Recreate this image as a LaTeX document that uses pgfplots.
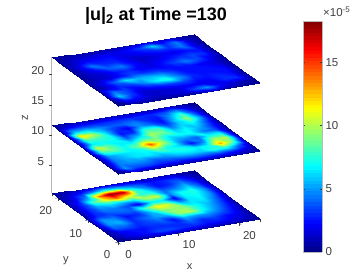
\documentclass[border=0pt]{standalone}
\usepackage{fontspec}
\setmainfont{Liberation Sans}
\usepackage{pgfplots}
\usepackage{pgfplotstable}
\pgfplotsset{compat=1.18}
\definecolor{axc}{gray}{0.25}
\definecolor{axl}{gray}{0.72}
% bottom slice: x y value (in units of 1e-5), rows y=0...22
\pgfplotstableread[row sep=\\]{
x y c\\
0 0 .3\\2 0 .4\\3.9 0 .5\\5.9 0 .6\\7.8 0 .8\\9.8 0 .8\\11.8 0 .7\\13.7 0 .7\\15.7 0 .6\\17.6 0 .6\\19.6 0 .5\\21.5 0 .4\\23.5 0 .3\\
0 1.8 .4\\2 1.8 1.5\\3.9 1.8 2\\5.9 1.8 2.5\\7.8 1.8 3.5\\9.8 1.8 3.5\\11.8 1.8 3\\13.7 1.8 3\\15.7 1.8 2.5\\17.6 1.8 2.5\\19.6 1.8 2\\21.5 1.8 1.5\\23.5 1.8 .4\\
0 3.7 .5\\2 3.7 2\\3.9 3.7 2.5\\5.9 3.7 2.5\\7.8 3.7 3\\9.8 3.7 3\\11.8 3.7 3\\13.7 3.7 4\\15.7 3.7 3\\17.6 3.7 3.5\\19.6 3.7 2.5\\21.5 3.7 2\\23.5 3.7 .5\\
0 5.5 .5\\2 5.5 4\\3.9 5.5 4\\5.9 5.5 3\\7.8 5.5 3.5\\9.8 5.5 4\\11.8 5.5 2.5\\13.7 5.5 5.5\\15.7 5.5 5\\17.6 5.5 5\\19.6 5.5 4\\21.5 5.5 2.5\\23.5 5.5 .5\\
0 7.3 .6\\2 7.3 5\\3.9 7.3 5.5\\5.9 7.3 3\\7.8 7.3 4\\9.8 7.3 5\\11.8 7.3 5.5\\13.7 7.3 9.5\\15.7 7.3 10\\17.6 7.3 7\\19.6 7.3 5\\21.5 7.3 3\\23.5 7.3 .6\\
0 9.2 .6\\2 9.2 5\\3.9 9.2 4.5\\5.9 9.2 2.5\\7.8 9.2 3\\9.8 9.2 5.5\\11.8 9.2 9\\13.7 9.2 9.5\\15.7 9.2 9\\17.6 9.2 7\\19.6 9.2 5.5\\21.5 9.2 3.5\\23.5 9.2 .7\\
0 11 .6\\2 11 3\\3.9 11 3.5\\5.9 11 4\\7.8 11 4\\9.8 11 8\\11.8 11 11.5\\13.7 11 10.5\\15.7 11 5.5\\17.6 11 6.5\\19.6 11 6.5\\21.5 11 4\\23.5 11 .7\\
0 12.8 .6\\2 12.8 3\\3.9 12.8 4.5\\5.9 12.8 4.5\\7.8 12.8 3.5\\9.8 12.8 2\\11.8 12.8 6.5\\13.7 12.8 6.5\\15.7 12.8 2\\17.6 12.8 6.5\\19.6 12.8 7\\21.5 12.8 5\\23.5 12.8 .7\\
0 14.7 .6\\2 14.7 3\\3.9 14.7 5.5\\5.9 14.7 6.5\\7.8 14.7 6\\9.8 14.7 6.5\\11.8 14.7 10\\13.7 14.7 10.5\\15.7 14.7 4.5\\17.6 14.7 7\\19.6 14.7 7.5\\21.5 14.7 5\\23.5 14.7 .7\\
0 16.5 .6\\2 16.5 3\\3.9 16.5 8\\5.9 16.5 11\\7.8 16.5 14\\9.8 16.5 11\\11.8 16.5 7.5\\13.7 16.5 7\\15.7 16.5 4\\17.6 16.5 4.5\\19.6 16.5 6\\21.5 16.5 4\\23.5 16.5 .7\\
0 18.3 .6\\2 18.3 2\\3.9 18.3 5\\5.9 18.3 14\\7.8 18.3 18.25\\9.8 18.3 17.5\\11.8 18.3 8\\13.7 18.3 5\\15.7 18.3 2.5\\17.6 18.3 3\\19.6 18.3 4.5\\21.5 18.3 3\\23.5 18.3 .6\\
0 20.2 .5\\2 20.2 1.5\\3.9 20.2 3\\5.9 20.2 5\\7.8 20.2 7\\9.8 20.2 6\\11.8 20.2 4.5\\13.7 20.2 3.5\\15.7 20.2 2.5\\17.6 20.2 3\\19.6 20.2 3\\21.5 20.2 1.5\\23.5 20.2 .5\\
0 22 .3\\2 22 .5\\3.9 22 .7\\5.9 22 .9\\7.8 22 1.2\\9.8 22 1.3\\11.8 22 1.2\\13.7 22 1\\15.7 22 1\\17.6 22 1\\19.6 22 .8\\21.5 22 .5\\23.5 22 .3\\
}\sliceA
% middle slice
\pgfplotstableread[row sep=\\]{
x y c\\
0 0 .3\\2 0 .8\\3.9 0 .7\\5.9 0 .6\\7.8 0 .6\\9.8 0 .5\\11.8 0 .5\\13.7 0 .5\\15.7 0 .5\\17.6 0 .5\\19.6 0 .4\\21.5 0 .3\\23.5 0 .3\\
0 1.8 .5\\2 1.8 5\\3.9 1.8 3.5\\5.9 1.8 3.5\\7.8 1.8 3\\9.8 1.8 3\\11.8 1.8 3\\13.7 1.8 3.5\\15.7 1.8 3.5\\17.6 1.8 3.5\\19.6 1.8 3\\21.5 1.8 2\\23.5 1.8 .4\\
0 3.7 .5\\2 3.7 4.5\\3.9 3.7 5\\5.9 3.7 5\\7.8 3.7 4\\9.8 3.7 4.5\\11.8 3.7 5.5\\13.7 3.7 6\\15.7 3.7 6\\17.6 3.7 7.5\\19.6 3.7 7.5\\21.5 3.7 4.5\\23.5 3.7 .5\\
0 5.5 .5\\2 5.5 4.5\\3.9 5.5 5.5\\5.9 5.5 6.5\\7.8 5.5 6.5\\9.8 5.5 6\\11.8 5.5 7\\13.7 5.5 7.5\\15.7 5.5 6.5\\17.6 5.5 7\\19.6 5.5 13\\21.5 5.5 9\\23.5 5.5 .6\\
0 7.3 .6\\2 7.3 5\\3.9 7.3 6\\5.9 7.3 6.5\\7.8 7.3 7\\9.8 7.3 9\\11.8 7.3 7\\13.7 7.3 6\\15.7 7.3 2.5\\17.6 7.3 4.5\\19.6 7.3 10\\21.5 7.3 10\\23.5 7.3 .6\\
0 9.2 .6\\2 9.2 8\\3.9 9.2 8.5\\5.9 9.2 7\\7.8 9.2 9\\9.8 9.2 14.5\\11.8 9.2 10\\13.7 9.2 6\\15.7 9.2 4.5\\17.6 9.2 4\\19.6 9.2 7\\21.5 9.2 7\\23.5 9.2 .5\\
0 11 .6\\2 11 10.5\\3.9 11 8.5\\5.9 11 6.5\\7.8 11 6.5\\9.8 11 9\\11.8 11 9\\13.7 11 6.5\\15.7 11 7\\17.6 11 7\\19.6 11 4.5\\21.5 11 3.5\\23.5 11 .5\\
0 12.8 .6\\2 12.8 6.5\\3.9 12.8 7\\5.9 12.8 7\\7.8 12.8 4\\9.8 12.8 6\\11.8 12.8 10\\13.7 12.8 9\\15.7 12.8 6\\17.6 12.8 7\\19.6 12.8 5.5\\21.5 12.8 3.5\\23.5 12.8 .5\\
0 14.7 .6\\2 14.7 8\\3.9 14.7 8\\5.9 14.7 7\\7.8 14.7 2.5\\9.8 14.7 3\\11.8 14.7 8\\13.7 14.7 8\\15.7 14.7 4\\17.6 14.7 6\\19.6 14.7 7\\21.5 14.7 4\\23.5 14.7 .5\\
0 16.5 .6\\2 16.5 12\\3.9 16.5 10\\5.9 16.5 6\\7.8 16.5 3\\9.8 16.5 2\\11.8 16.5 5\\13.7 16.5 4\\15.7 16.5 2.5\\17.6 16.5 6\\19.6 16.5 9.5\\21.5 16.5 5.5\\23.5 16.5 .5\\
0 18.3 .5\\2 18.3 6\\3.9 18.3 6\\5.9 18.3 5\\7.8 18.3 4\\9.8 18.3 4\\11.8 18.3 4.5\\13.7 18.3 3\\15.7 18.3 2.5\\17.6 18.3 5\\19.6 18.3 8\\21.5 18.3 4\\23.5 18.3 .5\\
0 20.2 .4\\2 20.2 2\\3.9 20.2 3\\5.9 20.2 3\\7.8 20.2 3\\9.8 20.2 3\\11.8 20.2 3\\13.7 20.2 3\\15.7 20.2 3\\17.6 20.2 3.5\\19.6 20.2 4.5\\21.5 20.2 2\\23.5 20.2 .4\\
0 22 .3\\2 22 .5\\3.9 22 .7\\5.9 22 .8\\7.8 22 .9\\9.8 22 .9\\11.8 22 .8\\13.7 22 .8\\15.7 22 .7\\17.6 22 .7\\19.6 22 .7\\21.5 22 .5\\23.5 22 .3\\
}\sliceB
% top slice
\pgfplotstableread[row sep=\\]{
x y c\\
0 0 .3\\2 0 .5\\3.9 0 .5\\5.9 0 .4\\7.8 0 .4\\9.8 0 .4\\11.8 0 .5\\13.7 0 .7\\15.7 0 .8\\17.6 0 .6\\19.6 0 .4\\21.5 0 .3\\23.5 0 .3\\
0 1.8 .3\\2 1.8 2.5\\3.9 1.8 2\\5.9 1.8 1.5\\7.8 1.8 1.3\\9.8 1.8 1.5\\11.8 1.8 1.8\\13.7 1.8 3.5\\15.7 1.8 5\\17.6 1.8 2.5\\19.6 1.8 1.5\\21.5 1.8 1\\23.5 1.8 .3\\
0 3.7 .4\\2 3.7 6\\3.9 3.7 3.5\\5.9 3.7 1.5\\7.8 3.7 1.3\\9.8 3.7 1.5\\11.8 3.7 1.8\\13.7 3.7 2\\15.7 3.7 1.8\\17.6 3.7 2\\19.6 3.7 3\\21.5 3.7 3\\23.5 3.7 .4\\
0 5.5 .4\\2 5.5 4.5\\3.9 5.5 3.5\\5.9 5.5 2\\7.8 5.5 2.5\\9.8 5.5 3\\11.8 5.5 3.5\\13.7 5.5 3.5\\15.7 5.5 2.5\\17.6 5.5 2.5\\19.6 5.5 3\\21.5 5.5 2.5\\23.5 5.5 .4\\
0 7.3 .4\\2 7.3 1.5\\3.9 7.3 3\\5.9 7.3 3.5\\7.8 7.3 4.5\\9.8 7.3 6.5\\11.8 7.3 7.5\\13.7 7.3 5\\15.7 7.3 3\\17.6 7.3 2.5\\19.6 7.3 2.5\\21.5 7.3 2.5\\23.5 7.3 .4\\
0 9.2 .4\\2 9.2 1.8\\3.9 9.2 4\\5.9 9.2 6.5\\7.8 9.2 5.5\\9.8 9.2 5.5\\11.8 9.2 5\\13.7 9.2 3.5\\15.7 9.2 2.5\\17.6 9.2 2.5\\19.6 9.2 2.5\\21.5 9.2 2\\23.5 9.2 .4\\
0 11 .4\\2 11 1.2\\3.9 11 1.5\\5.9 11 2.5\\7.8 11 3.5\\9.8 11 3\\11.8 11 3\\13.7 11 2.5\\15.7 11 2.5\\17.6 11 2.5\\19.6 11 2\\21.5 11 1.5\\23.5 11 .4\\
0 12.8 .4\\2 12.8 1.3\\3.9 12.8 1.5\\5.9 12.8 2.5\\7.8 12.8 3\\9.8 12.8 2\\11.8 12.8 1.8\\13.7 12.8 2.5\\15.7 12.8 3.5\\17.6 12.8 4.5\\19.6 12.8 3.5\\21.5 12.8 2\\23.5 12.8 .4\\
0 14.7 .4\\2 14.7 1.5\\3.9 14.7 2.5\\5.9 14.7 4\\7.8 14.7 4.5\\9.8 14.7 2.5\\11.8 14.7 1.5\\13.7 14.7 2\\15.7 14.7 2.5\\17.6 14.7 3\\19.6 14.7 3.5\\21.5 14.7 3\\23.5 14.7 .4\\
0 16.5 .4\\2 16.5 2\\3.9 16.5 4.5\\5.9 16.5 3\\7.8 16.5 3\\9.8 16.5 2\\11.8 16.5 1.2\\13.7 16.5 1.5\\15.7 16.5 2\\17.6 16.5 2\\19.6 16.5 2.5\\21.5 16.5 2.5\\23.5 16.5 .4\\
0 18.3 .4\\2 18.3 1.5\\3.9 18.3 2.5\\5.9 18.3 2.5\\7.8 18.3 2.5\\9.8 18.3 1.8\\11.8 18.3 2\\13.7 18.3 2.5\\15.7 18.3 3\\17.6 18.3 3\\19.6 18.3 4.5\\21.5 18.3 2\\23.5 18.3 .4\\
0 20.2 .4\\2 20.2 1\\3.9 20.2 1.5\\5.9 20.2 1.8\\7.8 20.2 2\\9.8 20.2 2\\11.8 20.2 2.5\\13.7 20.2 3.5\\15.7 20.2 6\\17.6 20.2 3\\19.6 20.2 4.5\\21.5 20.2 1.5\\23.5 20.2 .4\\
0 22 .3\\2 22 .4\\3.9 22 .5\\5.9 22 .5\\7.8 22 .6\\9.8 22 .7\\11.8 22 .8\\13.7 22 .9\\15.7 22 1.5\\17.6 22 1.2\\19.6 22 1\\21.5 22 .5\\23.5 22 .3\\
}\sliceC
\begin{document}
\begin{tikzpicture}[x=1pt,y=1pt]
\path[use as bounding box] (0,0) rectangle (364,278);
\begin{axis}[
  at={(118pt,35.6pt)}, anchor=origin,
  x={(6.04pt,0.98pt)}, y={(-3pt,2.23pt)}, z={(0pt,6.07pt)},
  xmin=0,xmax=23.5,ymin=0,ymax=22,zmin=0.4,zmax=22.8,
  clip=false,
  /pgf/number format/assume math mode=true,
  axis line style={draw=none},
  xtick pos=left, ytick pos=left, ztick pos=left, tick align=outside,
  major tick length=3pt,
  tick style={axc,line width=0.4pt},
  ztick style={draw=none},
  xtick={0,10,20},ytick={0,10,20},ztick={5,10,15,20},
  ticklabel style={font=\fontsize{11.5}{12}\selectfont,text=axc},
  xticklabel style={xshift=4pt,yshift=-2pt},
  yticklabel style={xshift=-1.5pt,yshift=-3.5pt},
  zticklabel style={xshift=-2pt},
  colormap/jet,point meta min=0,point meta max=18.25,
  title={\textbf{|u|\textsubscript{2} at Time =130}},
  title style={font=\fontsize{18}{19}\selectfont},
  xlabel={x},ylabel={y},zlabel={z},
  label style={font=\fontsize{11}{12}\selectfont,text=axc},
  xlabel style={xshift=-15pt,yshift=-5pt},
  ylabel style={xshift=7pt,yshift=-12pt},
  zlabel style={yshift=-5pt},
]
\addplot3[surf,shader=interp,mesh/cols=13,point meta=explicit] table[x=x,y=y,z expr=0.4,meta=c] {\sliceA};
\addplot3[surf,shader=interp,mesh/cols=13,point meta=explicit] table[x=x,y=y,z expr=11.6,meta=c] {\sliceB};
\addplot3[surf,shader=interp,mesh/cols=13,point meta=explicit] table[x=x,y=y,z expr=22.8,meta=c] {\sliceC};
\draw[axl,line width=1pt] (axis cs:0,22,0.4) -- (axis cs:0,22,22.8);
\draw[axc,line width=0.4pt] (axis cs:0,22,5) -- ++(-3pt,0pt);
\draw[axc,line width=0.4pt] (axis cs:0,22,10) -- ++(-3pt,0pt);
\draw[axc,line width=0.4pt] (axis cs:0,22,15) -- ++(-3pt,0pt);
\draw[axc,line width=0.4pt] (axis cs:0,22,20) -- ++(-3pt,0pt);
\end{axis}
\pgfplotscolorbardrawstandalone[
  colormap/jet,point meta min=0,point meta max=18.25,
  colorbar sampled,
  colorbar style={
    at={(294.5pt,26pt)},anchor=south west,
    width=19pt,height=231pt,samples=65,
    ytick={0,5,10,15},yticklabel pos=right,
    axis line style={axl},
    tick style={axc,line width=0.4pt},major tick length=2pt,
    /pgf/number format/assume math mode=true,
    ticklabel style={font=\fontsize{11.5}{12}\selectfont,text=axc},
  }]
\node[font=\fontsize{11.5}{12}\selectfont,text=axc,anchor=west,inner sep=0pt] at (323,266) {×10\textsuperscript{-5}};
\end{tikzpicture}
\end{document}
